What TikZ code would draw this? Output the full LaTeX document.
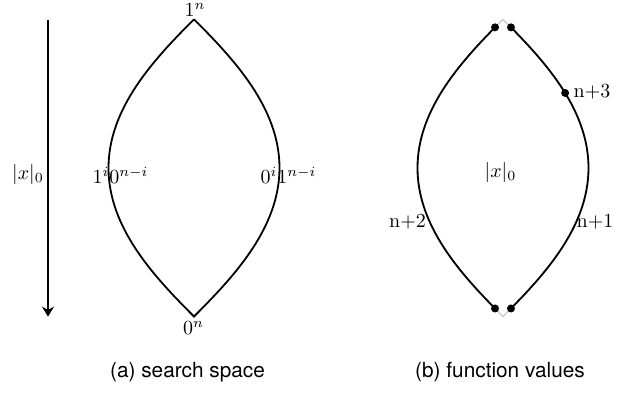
\documentclass[tikz,border=0pt]{standalone}
\usepackage{fontspec}
\setsansfont{TeX Gyre Heros}
\usetikzlibrary{arrows.meta}
\tikzset{
  lensline/.style={line width=0.9pt},
  ghost/.style={line width=0.7pt, draw=gray!40},
  dotnode/.style={circle, fill=black, inner sep=0pt, minimum size=4pt},
  lbl/.style={inner sep=0pt, font=\fontsize{10}{12}\selectfont},
  caption/.style={inner sep=0pt, font=\sffamily\fontsize{10.4}{12}\selectfont},
  axisarrow/.style={line width=1pt, -{Stealth[length=5pt,width=6pt,inset=1.6pt]}}
}
\begin{document}
\begin{tikzpicture}[x=0.5pt,y=-0.5pt]
\useasboundingbox (0,0) rectangle (638,392);
% ---------- (a) search space ----------
\def\ca{194}
\draw[lensline] (\ca,19.3)
  .. controls (\ca+40,59.3) and (\ca+85.5,107.9) .. (\ca+85.5,167.9)
  .. controls (\ca+85.5,227.9) and (\ca+40,276.5) .. (\ca,316.5)
  .. controls (\ca-40,276.5) and (\ca-85.5,227.9) .. (\ca-85.5,167.9)
  .. controls (\ca-85.5,107.9) and (\ca-40,59.3) .. (\ca,19.3);
\coordinate (a1) at (48,20);
\coordinate (a2) at (48,316.7);
\draw[axisarrow] (a1) -- (a2);
\node[lbl] (xl) at (28,174) {$|x|_0$};
\node[lbl] (top) at (195,10) {$1^n$};
\node[lbl] (bot) at (193.5,328) {$0^n$};
\node[lbl] (li) at (120.5,175) {$1^i0^{n-i}$};
\node[lbl] (ri) at (288.5,175) {$0^i1^{n-i}$};
\node[caption] (capa) at (187.5,372) {(a) search space};
% ---------- (b) function values ----------
\def\cb{503}
\draw[ghost] (\cb,19.3)
  .. controls (\cb+40,59.3) and (\cb+85.5,107.9) .. (\cb+85.5,167.9)
     coordinate[pos=0.066] (d1) coordinate[pos=0.546] (d3)
  .. controls (\cb+85.5,227.9) and (\cb+40,276.5) .. (\cb,316.5)
     coordinate[pos=0.934] (d2)
  .. controls (\cb-40,276.5) and (\cb-85.5,227.9) .. (\cb-85.5,167.9)
     coordinate[pos=0.066] (d4)
  .. controls (\cb-85.5,107.9) and (\cb-40,59.3) .. (\cb,19.3)
     coordinate[pos=0.934] (d5);
\begin{scope}
\clip (300,27.2) rectangle (638,308.6);
\draw[lensline] (\cb,19.3)
  .. controls (\cb+40,59.3) and (\cb+85.5,107.9) .. (\cb+85.5,167.9)
  .. controls (\cb+85.5,227.9) and (\cb+40,276.5) .. (\cb,316.5)
  .. controls (\cb-40,276.5) and (\cb-85.5,227.9) .. (\cb-85.5,167.9)
  .. controls (\cb-85.5,107.9) and (\cb-40,59.3) .. (\cb,19.3);
\end{scope}
\node[dotnode] (p1) at (d1) {};
\node[dotnode] (p2) at (d2) {};
\node[dotnode] (p3) at (d3) {};
\node[dotnode] (p4) at (d4) {};
\node[dotnode] (p5) at (d5) {};
\node[lbl] (xr) at (500.5,172) {$|x|_0$};
\node[lbl] (n3) at (592,91.5) {n+3};
\node[lbl] (n2) at (407.5,222) {n+2};
\node[lbl] (n1) at (595,222) {n+1};
\node[caption] (capb) at (500,372) {(b) function values};
\end{tikzpicture}
\end{document}
